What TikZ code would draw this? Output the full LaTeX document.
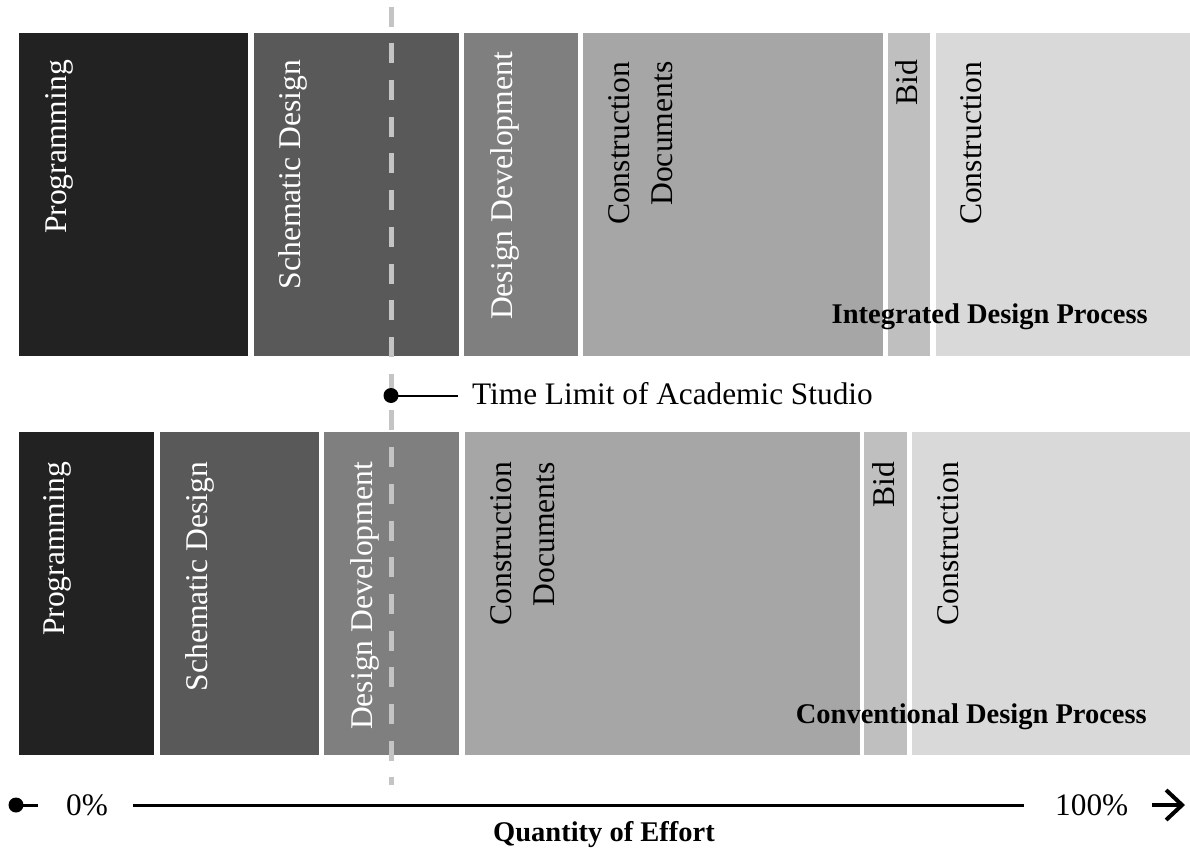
\documentclass[tikz,border=0pt]{standalone}
\usepackage{fontspec}
\setmainfont{Liberation Serif}
\usetikzlibrary{arrows.meta}

\definecolor{phaseA}{HTML}{222222}
\definecolor{phaseB}{HTML}{595959}
\definecolor{phaseC}{HTML}{7F7F7F}
\definecolor{phaseD}{HTML}{A6A6A6}
\definecolor{phaseE}{HTML}{BFBFBF}
\definecolor{phaseF}{HTML}{D9D9D9}
\definecolor{limitgray}{HTML}{C4C4C4}

\begin{document}
\begin{tikzpicture}[x=1pt,y=-1pt,
  phaselabel/.style={rotate=90,anchor=north east,inner sep=0pt,align=right,
    font=\fontsize{31.6}{43.5}\selectfont},
  lightlabel/.style={phaselabel,text=white},
  darklabel/.style={phaselabel,text=black},
  plainlabel/.style={inner sep=0pt,font=\fontsize{31.3}{36}\selectfont},
  boldlabel/.style={inner sep=0pt,font=\fontsize{28.5}{34}\selectfont\bfseries},
  dotnode/.style={circle,fill=black,inner sep=0pt,minimum size=15pt},
  axisline/.style={line width=3pt,black},
  limitline/.style={line width=5pt,limitgray,dash pattern=on 20pt off 16.7pt}
]
\useasboundingbox (0,0) rectangle (1190,850);

% Integrated design process (upper band)
\fill[phaseA] (19,33)  rectangle (248,356);
\fill[phaseB] (254,33) rectangle (459,356);
\fill[phaseC] (464,33) rectangle (578,356);
\fill[phaseD] (583,33) rectangle (883,356);
\fill[phaseE] (888,33) rectangle (930,356);
\fill[phaseF] (936,33) rectangle (1190,356);

\node[lightlabel] (ip) at (45,60)    {Programming};
\node[lightlabel] (is) at (278,60)   {Schematic Design};
\node[lightlabel] (id) at (490,52)   {Design Development};
\node[darklabel]  (ic) at (608,61.5) {Construction\\Documents};
\node[darklabel]  (ib) at (895,60)   {Bid};
\node[darklabel]  (ik) at (960,61.5) {Construction};
\node[boldlabel,anchor=base east] (itag) at (1148,323) {Integrated Design Process};

% Conventional design process (lower band)
\fill[phaseA] (19,432)  rectangle (154,755);
\fill[phaseB] (160,432) rectangle (319,755);
\fill[phaseC] (324,432) rectangle (459,755);
\fill[phaseD] (465,432) rectangle (860,755);
\fill[phaseE] (864,432) rectangle (907,755);
\fill[phaseF] (912,432) rectangle (1190,755);

\node[lightlabel] (cp) at (43,462)  {Programming};
\node[lightlabel] (cs) at (185,462) {Schematic Design};
\node[lightlabel] (cd) at (350,462) {Design Development};
\node[darklabel]  (cc) at (490,462) {Construction\\Documents};
\node[darklabel]  (cb) at (872,462) {Bid};
\node[darklabel]  (ck) at (937,462) {Construction};
\node[boldlabel,anchor=base east] (ctag) at (1147,723) {Conventional Design Process};

% studio time limit
\coordinate (limtop) at (391,6.7);
\coordinate (limbot) at (391,785);
\draw[limitline] (limtop) -- (limbot);
\node[dotnode] (lim) at (391,395.5) {};
\coordinate (limend) at (458,395.5);
\draw[line width=2pt] (lim.center) -- (limend);
\node[plainlabel,anchor=base west] (limtext) at (472,404) {Time Limit of Academic Studio};

% effort axis
\node[dotnode] (zero) at (16,805) {};
\coordinate (zeroend) at (38,805);
\draw[axisline] (zero.center) -- (zeroend);
\node[plainlabel,anchor=base west] (zerotxt) at (66,815) {0\%};
\coordinate (axl) at (133,805);
\coordinate (axr) at (1024,805);
\draw[axisline] (axl) -- (axr);
\node[plainlabel,anchor=base west] (fulltxt) at (1055,815) {100\%};
\coordinate (arrs) at (1152,805);
\coordinate (arre) at (1185,805);
\draw[line width=4pt,-{Straight Barb[length=16pt,width=30pt]}] (arrs) -- (arre);
\node[boldlabel,anchor=base] (effort) at (604,841) {Quantity of Effort};

\end{tikzpicture}
\end{document}
